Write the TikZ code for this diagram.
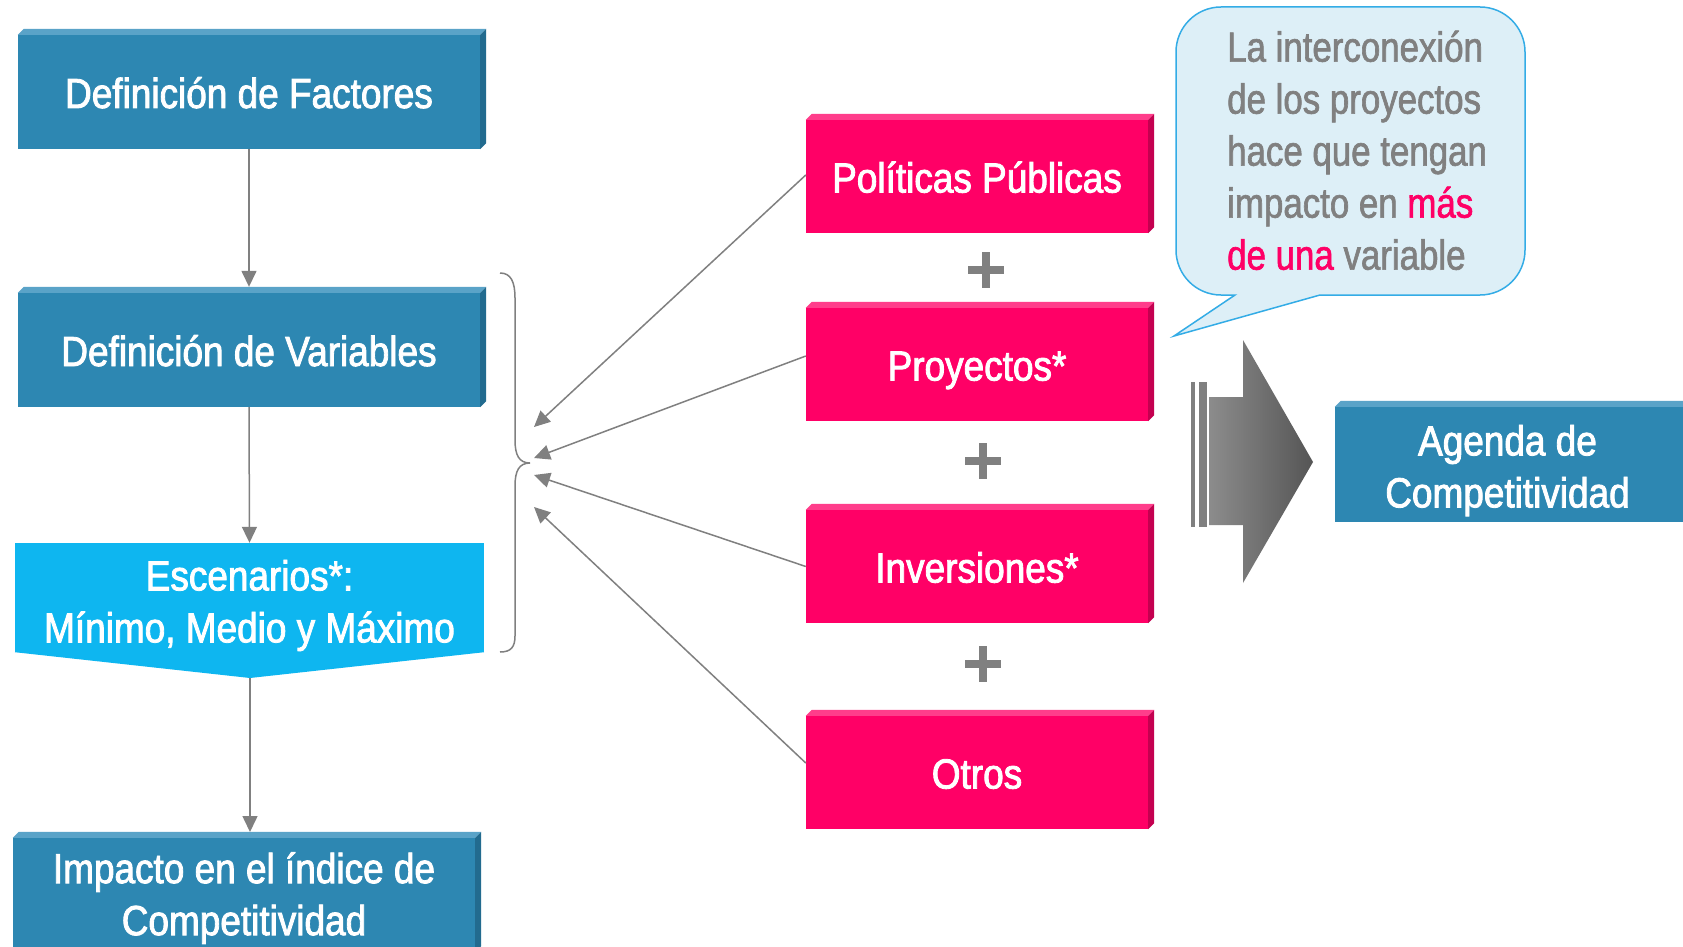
\documentclass[tikz,border=0pt]{standalone}
\usepackage{fontspec}
\setmainfont[FakeStretch=0.88,FakeBold=2]{Liberation Sans}
\newfontfamily\bubfont[FakeStretch=0.83,FakeBold=1.5]{Liberation Sans}
\usetikzlibrary{arrows.meta}
\definecolor{boxblue}{HTML}{2D87B2}
\definecolor{boxbluetop}{HTML}{5AA3C8}
\definecolor{boxblueside}{HTML}{226B8F}
\definecolor{boxpink}{HTML}{FF0066}
\definecolor{boxpinktop}{HTML}{FF3D8B}
\definecolor{boxpinkside}{HTML}{C40050}
\definecolor{boxcyan}{HTML}{0EB6F0}
\definecolor{linegray}{HTML}{808080}
\definecolor{arrowL}{HTML}{8C8C8C}
\definecolor{arrowR}{HTML}{555555}
\definecolor{bubline}{HTML}{33ACE6}
\definecolor{bubfill}{HTML}{DDEFF7}
\definecolor{bubtextgray}{HTML}{808080}
\newcommand\bevelbox[3]{%
  \fill[#2] (#1.north west) -- ([shift={(6,-6)}]#1.north west) -- ([shift={(6,-6)}]#1.north east) -- (#1.north east) -- cycle;
  \fill[#3] (#1.north east) -- ([shift={(6,-6)}]#1.north east) -- ([shift={(6,-6)}]#1.south east) -- (#1.south east) -- cycle;}
\newcommand\shiftlines[3]{\raisebox{-#1}[\height][\depth]{\parbox{#2}{\centering #3}}}
\tikzset{
  box/.style={inner sep=0pt, align=center, text=white, font=\fontsize{42}{52}\selectfont},
  oneline/.style={text height=32pt, text depth=0pt},
  bluebox/.style={box, fill=boxblue, minimum width=462pt, minimum height=114pt},
  pinkbox/.style={box, oneline, fill=boxpink, minimum width=342pt, minimum height=113pt},
  conn/.style={draw=linegray, line width=1.5pt, -{Triangle[width=15pt,length=16pt]}},
  bracepath/.style={draw=linegray, line width=1.5pt},
  plussign/.style={draw=linegray, line width=8pt},
  bubtext/.style={inner sep=0pt, align=left, text=bubtextgray, font=\bubfont\fontsize{42}{52}\selectfont},
}
\begin{document}
\begin{tikzpicture}[x=1pt,y=-1pt]
\useasboundingbox (0,0) rectangle (1683,947);
\clip (0,0) rectangle (1683,947);
\fill[white] (0,0) rectangle (1683,947);

% left column
\node[bluebox, oneline] (fac) at (249,92) {Definición de Factores};
\bevelbox{fac}{boxbluetop}{boxblueside}
\node[bluebox, oneline] (var) at (249,350) {Definición de Variables};
\bevelbox{var}{boxbluetop}{boxblueside}
\node[box, fill=boxcyan, minimum width=469pt, minimum height=109pt] (esc) at (249.5,597.5) {\shiftlines{8pt}{460pt}{Escenarios*:\\Mínimo, Medio y Máximo}};
\fill[boxcyan] (esc.south west) -- (esc.south east) -- (250,678) -- cycle;
\coordinate (esctip) at (250,678);
\node[bluebox] (imp) at (244,895) {\shiftlines{3pt}{460pt}{Impacto en el índice de\\Competitividad}};
\bevelbox{imp}{boxbluetop}{boxblueside}
\coordinate (impin) at (250,832);

\draw[conn] (fac.south) -- ([yshift=6pt]var.north);
\draw[conn] (var.south) -- (esc.north);
\draw[conn] (esctip) -- (impin);

% brace
\draw[bracepath] (500,273) .. controls (511,273) and (515,282) .. (515,298) -- (515,440) .. controls (515,455) and (519,463) .. (530,463) .. controls (519,463) and (515,471) .. (515,486) -- (515,636) .. controls (515,647) and (511,652) .. (500,652);

% pink column
\node[pinkbox] (pol) at (977,176.5) {Políticas Públicas};
\bevelbox{pol}{boxpinktop}{boxpinkside}
\node[pinkbox] (pro) at (977,364.5) {Proyectos*};
\bevelbox{pro}{boxpinktop}{boxpinkside}
\node[pinkbox] (inv) at (977,566.5) {Inversiones*};
\bevelbox{inv}{boxpinktop}{boxpinkside}
\node[pinkbox] (otr) at (977,772.5) {Otros};
\bevelbox{otr}{boxpinktop}{boxpinkside}

\coordinate (t1) at (534,427);
\coordinate (t2) at (534,458);
\coordinate (t3) at (534,475);
\coordinate (t4) at (534,507);
\draw[conn] ([yshift=1.5pt]pol.west) -- (t1);
\draw[conn] ([yshift=8.5pt]pro.west) -- (t2);
\draw[conn] (inv.west) -- (t3);
\draw[conn] ([yshift=9.5pt]otr.west) -- (t4);

% plus signs
\foreach \px/\py in {986/270, 983/461, 983/664}{
  \draw[plussign] (\px-18,\py) -- (\px+18,\py);
  \draw[plussign] (\px,\py-18) -- (\px,\py+18);
}

% speech bubble
\draw[draw=bubline, fill=bubfill, line width=1.5pt, line join=miter]
  (1320,295) -- (1480,295) .. controls (1504.8,295) and (1525,274.8) .. (1525,250)
  -- (1525,52) .. controls (1525,27.2) and (1504.8,7) .. (1480,7)
  -- (1221,7) .. controls (1196.2,7) and (1176,27.2) .. (1176,52)
  -- (1176,250) .. controls (1176,274.8) and (1196.2,295) .. (1221,295)
  -- (1235,295) -- (1174,336) -- cycle;
\node[bubtext, anchor=north west] (bub) at (1227,30.5) {La interconexión\\de los proyectos\\hace que tengan\\impacto en \textcolor{boxpink}{más}\\\textcolor{boxpink}{de una} variable};

% big arrow
\fill[linegray] (1191,382) rectangle (1195,527);
\fill[linegray] (1199,382) rectangle (1207,527);
\shade[left color=arrowL, right color=arrowR] (1209,397) -- (1243,397) -- (1243,340) -- (1313,462) -- (1243,583) -- (1243,525) -- (1209,525) -- cycle;

% agenda box
\node[bluebox, minimum width=355pt, minimum height=115pt] (age) at (1512.5,464.5) {\kern-10pt\shiftlines{6pt}{340pt}{Agenda de\\Competitividad}};
\bevelbox{age}{boxbluetop}{boxblueside}
\end{tikzpicture}
\end{document}
